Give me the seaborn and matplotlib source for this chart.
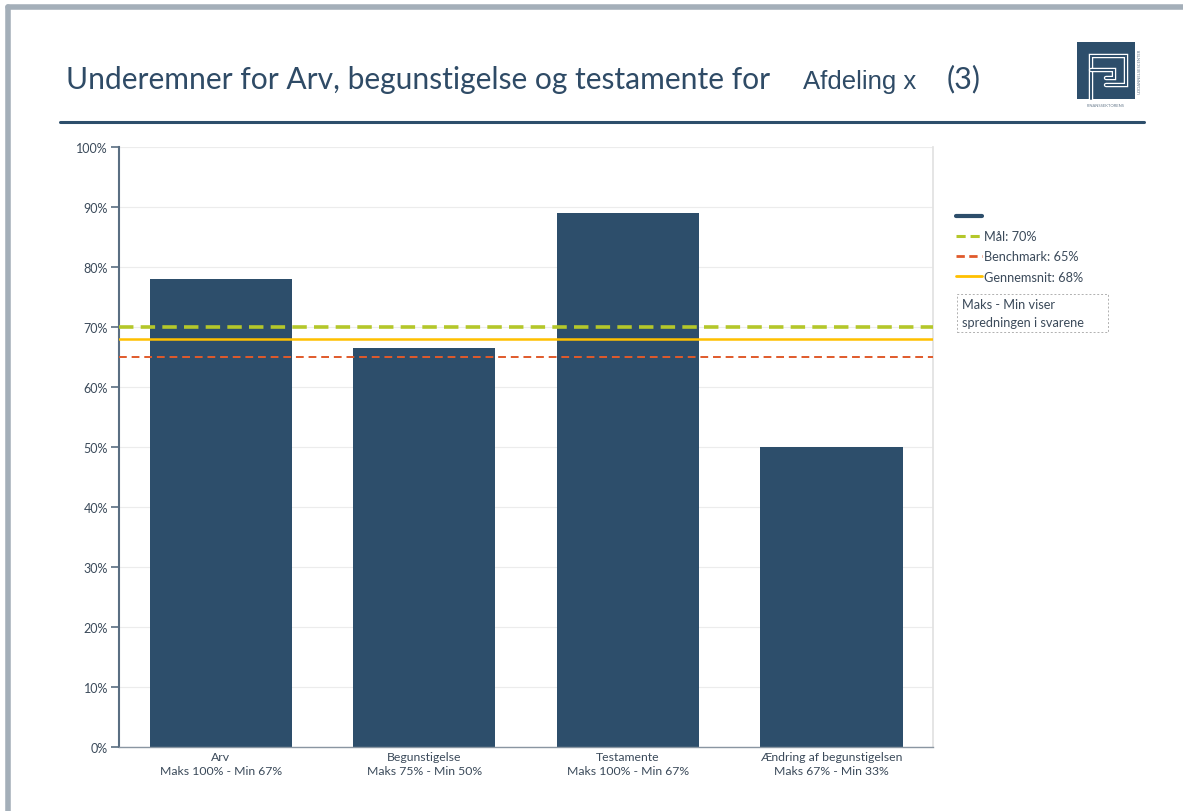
import pandas as pd
import seaborn as sns
import matplotlib.pyplot as plt
from matplotlib.patches import Rectangle
from matplotlib.lines import Line2D

# data
categories = ['Arv', 'Begunstigelse', 'Testamente', 'Ændring af begunstigelsen']
spread = ['Maks 100% - Min 67%', 'Maks 75% - Min 50%', 'Maks 100% - Min 67%', 'Maks 67% - Min 33%']
values = [78, 66.5, 89, 50]
maal = 70
benchmark = 65
gennemsnit = 68

navy = '#2d4e6b'
green = '#b4c72a'
orange = '#e05a2b'
yellow = '#ffc000'
text_col = '#3b4a5a'
title_col = '#2f4b66'

df = pd.DataFrame({
    'label': [f'{c}\n{s}' for c, s in zip(categories, spread)],
    'value': values,
})

sns.set_theme(style='white')
plt.rcParams['font.family'] = ['Lato', 'DejaVu Sans']

fig = plt.figure(figsize=(11.83, 8.12), dpi=100)
ax = fig.add_axes([0.1006, 0.0788, 0.6881, 0.7389])

sns.barplot(data=df, x='label', y='value', color=navy, width=0.70,
            saturation=1, ax=ax, zorder=2, linewidth=0)

ax.axhline(maal, color=green, lw=2.6, ls=(0, (4, 2)), zorder=3)
ax.axhline(benchmark, color=orange, lw=1.4, ls=(0, (4, 2.5)), zorder=3)
ax.axhline(gennemsnit, color=yellow, lw=1.8, zorder=3)

ax.set_ylim(0, 100)
ax.set_xlim(-0.5, 3.5)
ax.set_yticks(range(0, 101, 10))
ax.set_yticklabels([f'{v}%' for v in range(0, 101, 10)], fontsize=9, color=text_col)
ax.tick_params(axis='x', labelsize=8.8, labelcolor=text_col, length=0, pad=3)
for lab in ax.get_xticklabels():
    lab.set_linespacing(1.35)
ax.tick_params(axis='y', length=6, width=1.2, color='#5a6e82', direction='out', pad=2, left=True)
ax.set_xlabel('')
ax.set_ylabel('')
ax.grid(axis='y', color='#ececec', lw=0.8, zorder=0)
ax.set_axisbelow(True)
ax.spines['left'].set_color('#5a6e82')
ax.spines['left'].set_linewidth(1.5)
ax.spines['bottom'].set_color('#8a96a2')
ax.spines['bottom'].set_linewidth(1.0)
ax.spines['right'].set_color('#e2e2e2')
ax.spines['top'].set_visible(False)

# legend
handles = [
    Line2D([], [], color=navy, lw=3),
    Line2D([], [], color=green, lw=2.2, ls=(0, (3, 1.6))),
    Line2D([], [], color=orange, lw=2.0, ls=(0, (3, 1.6))),
    Line2D([], [], color=yellow, lw=2.0),
]
labels = [' ', f'Mål: {maal}%', f'Benchmark: {benchmark}%', f'Gennemsnit: {gennemsnit}%']
leg = fig.legend(handles, labels, loc='upper left', bbox_to_anchor=(0.804, 0.746),
                 frameon=False, fontsize=9.2, handlelength=2.0, handletextpad=0.15,
                 labelspacing=0.63, borderaxespad=0)
for t in leg.get_texts():
    t.set_color(text_col)

fig.add_artist(Rectangle((0.809, 0.590), 0.1276, 0.0467, transform=fig.transFigure,
                         fc='white', ec='#b0b0b0', ls=(0, (2, 2)), lw=0.7))
fig.text(0.8135, 0.6135, 'Maks - Min viser\nspredningen i svarene', fontsize=9.2,
         color=text_col, va='center', ha='left', linespacing=1.55)

# title
fig.text(0.0558, 0.902, 'Underemner for Arv, begunstigelse og testamente for',
         fontsize=21.6, color=title_col, va='center', ha='left')
fig.text(0.679, 0.899, 'Afdeling x', fontsize=18.5, color=title_col, va='center',
         ha='left', family=['Liberation Sans', 'DejaVu Sans'])
fig.text(0.800, 0.902, '(3)', fontsize=22, color=title_col, va='center', ha='left')
fig.add_artist(Line2D([0.0507, 0.9670], [0.849, 0.849], color=navy, lw=2.2))

# page frame
fig.add_artist(Line2D([0.0068, 1.0], [0.9905, 0.9905], color='#a4afb9', lw=4))
fig.add_artist(Line2D([0.0068, 0.0068], [0.0, 0.9905], color='#a4afb9', lw=4))

# logo
lx, ly, lw_, lh = 0.9104, 0.877, 0.049, 0.070
fig.add_artist(Rectangle((lx, ly), lw_, lh, transform=fig.transFigure, fc=navy, ec='none'))
fx = lambda u: lx + u * lw_
fy = lambda v: ly + v * lh
p1 = ([fx(0.24), fx(0.24), fx(0.84), fx(0.84), fx(0.5)],
      [fy(0.0), fy(0.76), fy(0.76), fy(0.24), fy(0.24)])
p2 = ([fx(0.24), fx(0.64), fx(0.64), fx(0.5)],
      [fy(0.5), fy(0.5), fy(0.36), fy(0.36)])
for px, py in (p1, p2):
    fig.add_artist(Line2D(px, py, color='white', lw=3.2, solid_joinstyle='miter'))
    fig.add_artist(Line2D(px, py, color=navy, lw=1.4, solid_joinstyle='miter'))
fig.text(fx(0.5), ly - 0.008, 'FINANSSEKTORENS', fontsize=3, color='#6b7d8f',
         ha='center', va='center')
fig.text(lx + lw_ + 0.004, fy(0.5), 'UDDANNELSESCENTER', fontsize=3, color='#6b7d8f',
         ha='center', va='center', rotation=90)

fig.savefig('out.png', dpi=100, facecolor='white')
